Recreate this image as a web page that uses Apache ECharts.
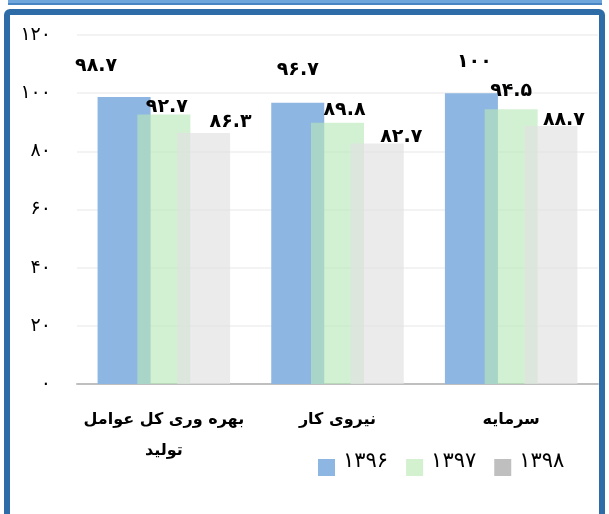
<!DOCTYPE html>
<html>
<head>
<meta charset="utf-8">
<script src="https://cdn.jsdelivr.net/npm/echarts@6/dist/echarts.min.js"></script>
<style>
  html, body { margin: 0; padding: 0; background: #fff; }
  #wrap { position: relative; width: 609px; height: 514px; overflow: hidden; }
  #myChart { position: absolute; left: 0; top: 0; width: 609px; height: 514px; }
  .top-strip {
    position: absolute; left: 8px; top: 0; width: 594px; height: 3px;
    background: #6fa6dc; border-bottom: 2px solid #4a86c4;
  }
  .frame {
    position: absolute; left: 4px; top: 9px; width: 589px; height: 520px;
    border: 6px solid #2e6ca8; border-radius: 6px; pointer-events: none;
  }
</style>
</head>
<body>
<div id="wrap">
  <div id="myChart"></div>
  <div class="top-strip"></div>
  <div class="frame"></div>
</div>
<script>
// 数据
const categories = ['بهره وری کل عوامل تولید', 'نیروی کار', 'سرمایه']
const years = ['۱۳۹۶', '۱۳۹۷', '۱۳۹۸']
const s1396 = [98.7, 96.7, 100]
const s1397 = [92.7, 89.8, 94.5]
const s1398 = [86.3, 82.7, 88.7]
const yTicks = [0, 20, 40, 60, 80, 100, 120]

// label nudges (dx, dy) per series / category
const labelShift = [
  [[-28, -21], [0, -23], [3, -22]],
  [[3, 2], [7, -3], [0, -9]],
  [[27, -1], [24, 3], [13, 4]]
]

const faDigits = '۰۱۲۳۴۵۶۷۸۹'
const fa = (v) => String(v).replace(/\d/g, (d) => faDigits[d])

const font = 'DejaVu Sans'
const barColors = ['#8db6e2', 'rgba(184,231,184,0.63)', 'rgba(226,226,226,0.7)']
const legendColors = ['#8db6e2', '#d3f0cf', '#bfbfbf']

const makeSeries = (idx, values) => ({
  name: years[idx],
  type: 'bar',
  barWidth: 53,
  barGap: '-25%',
  itemStyle: { color: barColors[idx] },
  data: values.map((v, i) => ({
    value: v,
    label: { offset: labelShift[idx][i] }
  })),
  label: {
    show: true,
    position: 'top',
    distance: 0,
    fontFamily: font,
    fontWeight: 'bold',
    fontSize: 19,
    color: '#000',
    formatter: (p) => fa(p.value)
  }
})

const myChart = echarts.init(document.getElementById('myChart'))
myChart.setOption({
  animation: false,
  grid: { left: 77, right: 11, top: 35, bottom: 130, containLabel: false },
  legend: {
    left: 318,
    top: 451,
    padding: 0,
    itemWidth: 17,
    itemHeight: 17,
    itemGap: 18,
    icon: 'rect',
    data: years.map((y, i) => ({ name: y, itemStyle: { color: legendColors[i], opacity: 1 } })),
    formatter: (name) => '{t|' + name + '}',
    textStyle: {
      fontFamily: font,
      color: '#000',
      rich: {
        t: { fontFamily: font, fontSize: 21, color: '#000', padding: [0, 0, 12, 3] }
      }
    }
  },
  xAxis: {
    type: 'category',
    data: categories,
    axisTick: { show: false },
    axisLine: { lineStyle: { color: '#bfbfbf', width: 2 } },
    axisLabel: {
      interval: 0,
      margin: 20,
      fontFamily: font,
      fontWeight: 'bold',
      fontSize: 16,
      lineHeight: 31,
      color: '#000',
      // 长标签换行
      formatter: (v) => (v.length > 14 ? v.replace(/ (\S+)$/, '\n$1') : v)
    }
  },
  yAxis: {
    type: 'value',
    min: yTicks[0],
    max: yTicks[yTicks.length - 1],
    interval: 20,
    axisLine: { show: false },
    axisTick: { show: false },
    splitLine: { lineStyle: { color: '#efefef', width: 1.5 } },
    axisLabel: {
      margin: 26,
      fontFamily: font,
      fontSize: 19,
      color: '#000',
      padding: [0, 0, 8, 0],
      formatter: (v) => fa(v)
    }
  },
  series: [makeSeries(0, s1396), makeSeries(1, s1397), makeSeries(2, s1398)]
})
</script>
</body>
</html>
